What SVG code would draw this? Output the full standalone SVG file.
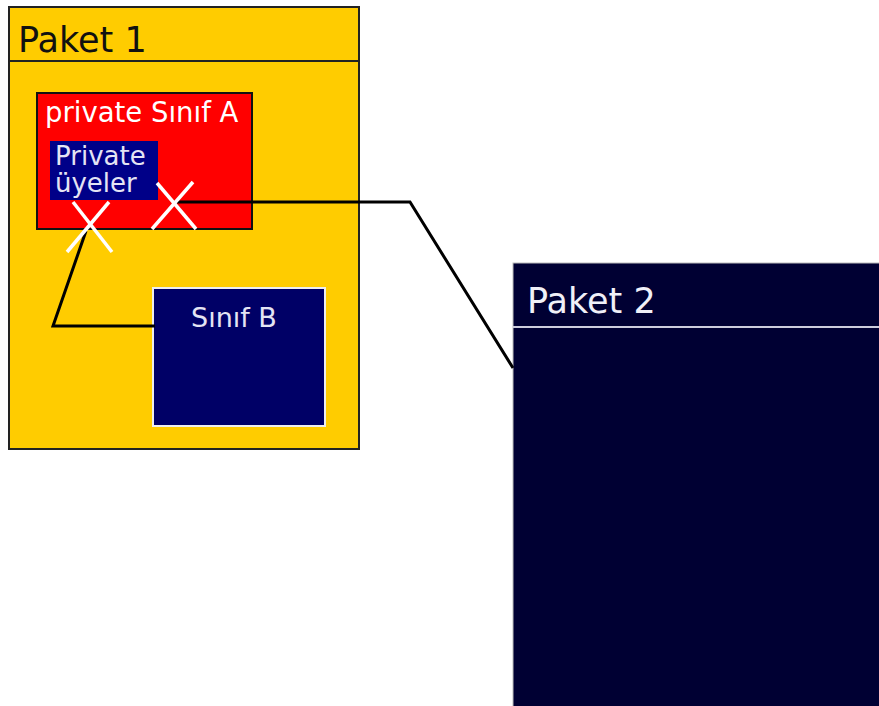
<svg xmlns="http://www.w3.org/2000/svg" width="879" height="706" viewBox="0 0 879 706">
<style>
text{font-family:"DejaVu Sans","Liberation Sans",sans-serif}
.conn{fill:none;stroke:#000;stroke-width:3;stroke-linejoin:miter}
.x{stroke:#fff;stroke-width:3.5;fill:none}
</style>
<rect width="879" height="706" fill="#fff"/>
<g id="paket1">
<rect x="9" y="7" width="350" height="442" fill="#ffcc00" stroke="#222" stroke-width="2"/>
<line x1="9" y1="61" x2="359" y2="61" stroke="#222" stroke-width="2"/>
<text x="18" y="52" font-size="35" fill="#111">Paket 1</text>
</g>
<g id="sinifA">
<rect x="37" y="93" width="215" height="136" fill="#ff0000" stroke="#111" stroke-width="2"/>
<text x="45" y="122" font-size="27.5" fill="#fff">private Sınıf A</text>
</g>
<g id="privateUyeler">
<rect x="50" y="141" width="108" height="59" fill="#000088"/>
<text x="55" y="165" font-size="26" fill="#e4e4f4">Private</text>
<text x="55" y="192" font-size="26" fill="#e4e4f4">üyeler</text>
</g>
<g id="sinifB">
<rect x="153" y="288" width="172" height="138" fill="#000066" stroke="#eee" stroke-width="2"/>
<text x="191" y="327" font-size="27" fill="#e4e4f4">Sınıf B</text>
</g>
<g id="paket2">
<rect x="513" y="263" width="370" height="450" fill="#000033" stroke="#bbb" stroke-width="1"/>
<line x1="513" y1="327" x2="879" y2="327" stroke="#ccccdd" stroke-width="2"/>
<text x="527" y="313" font-size="35" fill="#f0f0f8">Paket 2</text>
</g>
<g id="connectors">
<polyline class="conn" points="175,202 410,202 513,368"/>
<polyline class="conn" points="86,231 53,326 155,326"/>
</g>
<g id="marks">
<line class="x" x1="73" y1="202" x2="112" y2="252"/>
<line class="x" x1="109" y1="202" x2="67" y2="252"/>
<line class="x" x1="157" y1="183" x2="196" y2="229"/>
<line class="x" x1="193" y1="182" x2="152" y2="229"/>
</g>
</svg>
